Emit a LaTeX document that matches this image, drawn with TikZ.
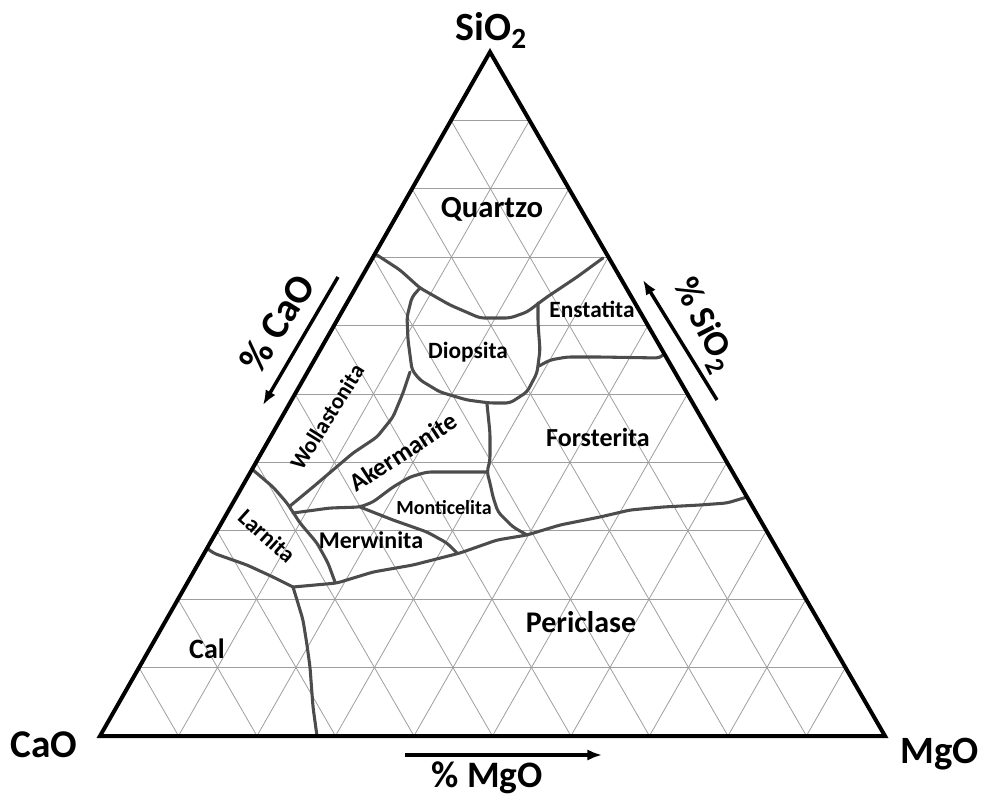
\documentclass[tikz,border=0pt]{standalone}
\usepackage{fontspec}
\setmainfont{Carlito}
\usetikzlibrary{arrows, arrows.meta, calc}

\begin{document}
\begin{tikzpicture}[x=0.75pt, y=-0.75pt,
	grid/.style={black!38, line width=0.6pt},
	phase/.style={black!70, line width=2.3pt, line join=round, line cap=round, rounded corners=3pt},
	side/.style={line width=3pt, line join=miter},
	axisarrow/.style={-{Latex[length=11pt,width=8.5pt]}, line width=2.6pt},
	field/.style={font=\bfseries\fontsize{#1}{#1}\selectfont, inner sep=0pt}]

		\useasboundingbox (0,0) rectangle (981,796);

		\coordinate (sio2) at (490,52);
		\coordinate (cao) at (100,736);
		\coordinate (mgo) at (885,736);

		% grid
		\foreach \i in {1,...,9} {
			\pgfmathtruncatemacro\j{10-\i}
			\draw[grid] (barycentric cs:sio2=\j,cao=\i) -- (barycentric cs:sio2=\j,mgo=\i);
			\draw[grid] (barycentric cs:sio2=\j,mgo=\i) -- (barycentric cs:cao=\j,mgo=\i);
			\draw[grid] (barycentric cs:sio2=\j,cao=\i) -- (barycentric cs:mgo=\j,cao=\i);
		}

		% phase boundaries
		\draw[phase] (377,255) -- (400,270) -- (420,288) -- (450,305) -- (480,318) -- (510,318) -- (527,312) -- (547,297) -- (577,277) -- (603,258);
		\draw[phase] (420,288) -- (412,297) -- (407,317) -- (408,340) -- (412,370) -- (420,380) -- (440,392) -- (467,400) -- (490,403) -- (510,403) -- (527,392) -- (537,373) -- (540,350) -- (538,323) -- (538,303);
		\draw[phase] (539,366) -- (550,360) -- (567,357) -- (600,357) -- (660,358) -- (664,354);
		\draw[phase] (487,404) -- (490,433) -- (490,460) -- (487,472) -- (490,483) -- (493,497) -- (498,512) -- (513,527) -- (527,535);
		\draw[phase] (487,472) -- (427,472) -- (410,477) -- (393,487) -- (373,502) -- (360,507) -- (330,508) -- (293,513);
		\draw[phase] (410,372) -- (403,393) -- (393,417) -- (377,437) -- (353,453) -- (333,470) -- (313,487) -- (290,506);
		\draw[phase] (253,470) -- (273,487) -- (287,503) -- (300,523) -- (317,543) -- (328,563) -- (335,582);
		\draw[phase] (360,507) -- (393,520) -- (427,532) -- (447,543) -- (457,553);
		\draw[phase] (747,497) -- (727,503) -- (700,505) -- (663,507) -- (630,510) -- (600,517) -- (560,525) -- (527,535) -- (497,540) -- (460,553) -- (413,565) -- (373,572) -- (337,583) -- (293,587);
		\draw[phase] (207,548) -- (213,553) -- (247,565) -- (273,577) -- (293,587);
		\draw[phase] (293,587) -- (297,600) -- (303,620) -- (307,645) -- (310,667) -- (313,707) -- (317,736);

		\draw[side] (sio2) -- (cao) -- (mgo) -- cycle;

		% fields
		\node[field=23, anchor=base] (quartzo) at (492,217) {Quartzo};
		\node[field=17.5, anchor=base] (enstatita) at (592,317) {Enstatita};
		\node[field=17.5, anchor=base] (diopsita) at (468,358) {Diopsita};
		\node[field=19.5, anchor=base] (forsterita) at (598,446) {Forsterita};
		\node[field=15, anchor=base] (monticelita) at (444,514) {Monticelita};
		\node[field=18, anchor=base] (merwinita) at (371,548) {Merwinita};
		\node[field=22.5, anchor=base] (periclase) at (581,632) {Periclase};
		\node[field=21, anchor=base] (cal) at (207,658) {Cal};
		\node[field=17, rotate=58] (wollastonita) at (327,417) {Wollastonita};
		\node[field=19, rotate=33] (akermanite) at (403,452) {Akermanite};
		\node[field=17.5, rotate=-42] (larnita) at (267,536) {Larnita};

		% corners
		\node[field=30, anchor=base] (sio2lbl) at (491,40) {SiO\raisebox{-0.22em}{\fontsize{22}{22}\selectfont 2}};
		\node[field=29.5, anchor=base] (caolbl) at (44,757) {CaO};
		\node[field=29, anchor=base] (mgolbl) at (940,763) {MgO};

		% axes
		\coordinate (caotail) at (338,277);
		\coordinate (caohead) at (263,405);
		\coordinate (sio2tail) at (717,400);
		\coordinate (sio2head) at (643,280);
		\coordinate (mgotail) at (405,755);
		\coordinate (mgohead) at (602,755);
		\draw[axisarrow] (caotail) -- (caohead);
		\draw[axisarrow] (sio2tail) -- (sio2head);
		\draw[axisarrow] (mgotail) -- (mgohead);
		\node[field=30, rotate=58] (caoaxis) at (277,323) {\% CaO};
		\node[field=27, rotate=-63] (sio2axis) at (703,325) {\% SiO\raisebox{-0.22em}{\fontsize{20}{20}\selectfont 2}};
		\node[field=28, anchor=base] (mgoaxis) at (487,787) {\% MgO};

\end{tikzpicture}
\end{document}
